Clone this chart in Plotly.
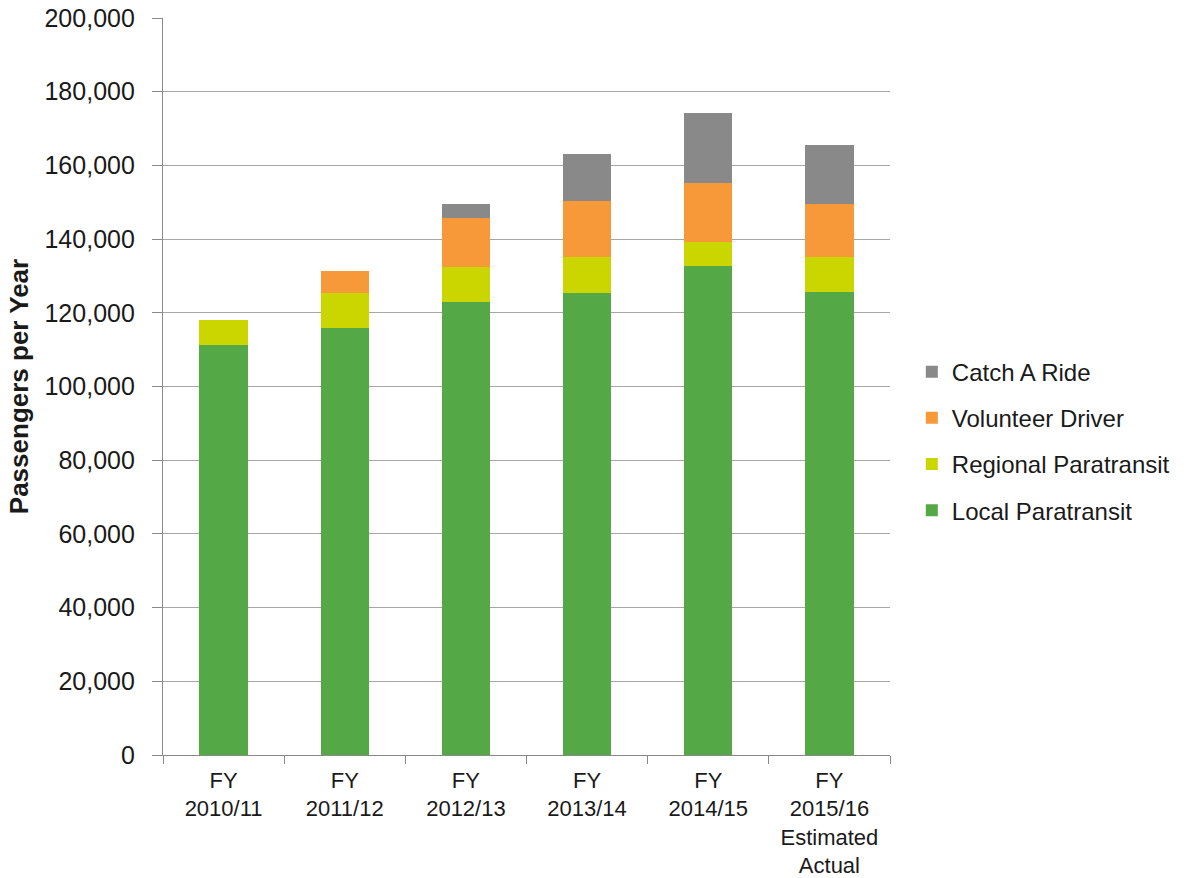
import plotly.graph_objects as go

categories = ["FY<br>2010/11", "FY<br>2011/12", "FY<br>2012/13", "FY<br>2013/14", "FY<br>2014/15",
              "FY<br>2015/16<br>Estimated<br>Actual"]
local_paratransit = [111200, 115900, 122900, 125300, 132600, 125700]
regional_paratransit = [6800, 9500, 9500, 9800, 6600, 9400]
volunteer_driver = [0, 5900, 13400, 15300, 15900, 14500]
catch_a_ride = [0, 0, 3800, 12700, 19100, 15900]

series = [
    ("Local Paratransit", local_paratransit, "#54a846"),
    ("Regional Paratransit", regional_paratransit, "#cbd500"),
    ("Volunteer Driver", volunteer_driver, "#f79839"),
    ("Catch A Ride", catch_a_ride, "#898989"),
]

fig = go.Figure()
for i, (name, vals, color) in enumerate(series):
    fig.add_trace(go.Bar(x=categories, y=vals, name=name, legendgroup=name,
                         legendrank=1000 - i,
                         marker=dict(color=color, line=dict(width=0)), width=0.4))

font = "Liberation Sans, Arial, sans-serif"
txt = "#1a1a1a"
fig.update_layout(
    barmode="stack",
    width=1203, height=878,
    margin=dict(l=163, r=313, t=18, b=123),
    paper_bgcolor="white", plot_bgcolor="white",
    font=dict(family=font, size=24, color=txt),
    showlegend=True,
    legend=dict(traceorder="grouped", x=1.030, xanchor="left", y=0.426, yanchor="middle",
                font=dict(size=24, family=font, color=txt), itemsizing="constant",
                tracegroupgap=12, bgcolor="rgba(0,0,0,0)"),
    yaxis=dict(range=[0, 200000], tickvals=list(range(0, 200001, 20000)), tickformat=",d",
               showgrid=True, gridcolor="#a6a6a6", gridwidth=1.3,
               showline=True, linecolor="#898989", linewidth=1.3,
               ticks="outside", ticklen=10, tickcolor="#898989", ticklabelstandoff=12,
               zeroline=False, automargin=False,
               title=dict(text="<b>Passengers per Year</b>", font=dict(size=26, family=font, color=txt),
                          standoff=8),
               tickfont=dict(size=25, family=font, color=txt)),
    xaxis=dict(showline=True, linecolor="#898989", linewidth=1.3,
               ticks="outside", ticklen=8, tickcolor="#898989", tickson="boundaries",
               ticklabelstandoff=5,
               showgrid=False, automargin=False,
               tickfont=dict(size=22, family=font, color=txt)),
)

fig.write_html("out.html")
